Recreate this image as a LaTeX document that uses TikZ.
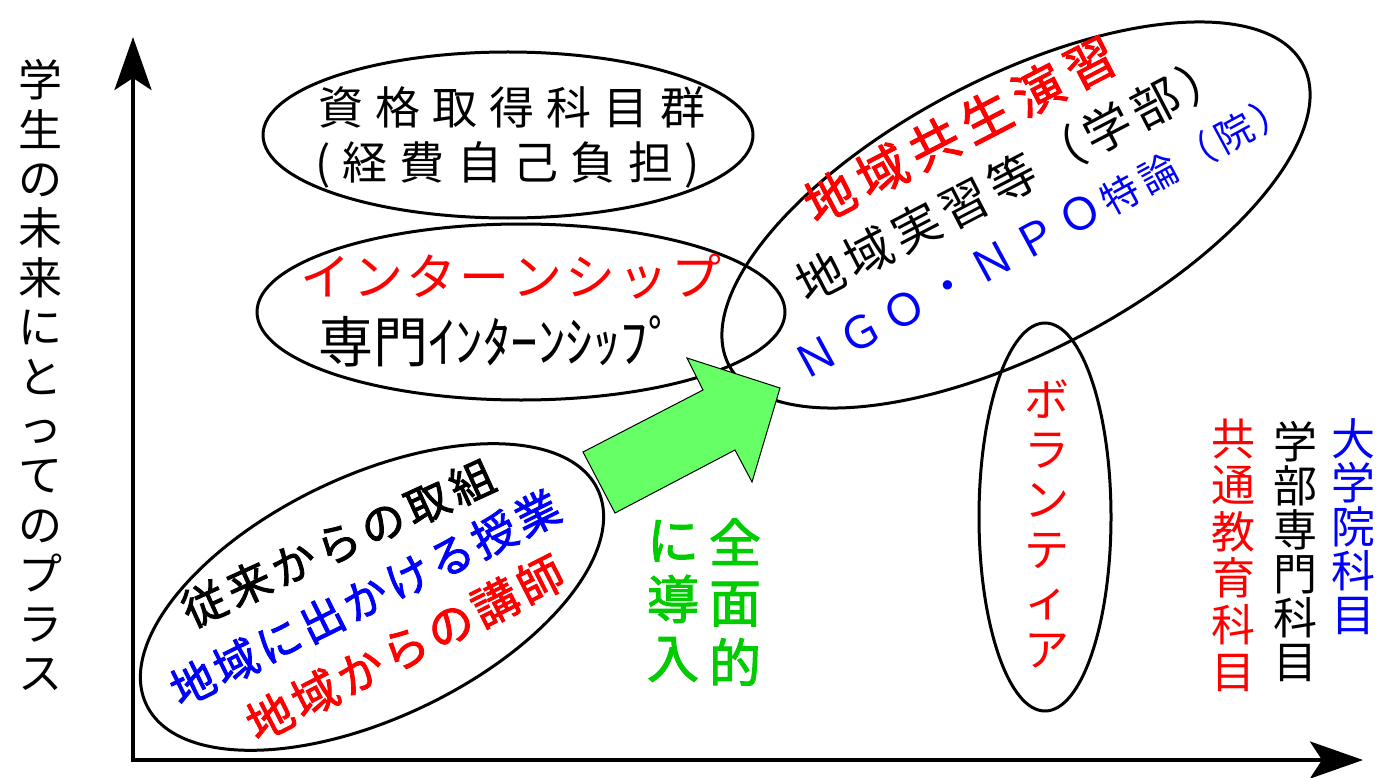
\documentclass[tikz,border=0pt]{standalone}
\usepackage{fontspec}
\usetikzlibrary{shapes.geometric,arrows.meta}
\newfontfamily\jp{Noto Sans CJK JP}
\newfontfamily\jpb[FakeBold=2]{Noto Sans CJK JP}
\definecolor{ared}{RGB}{255,0,0}
\definecolor{ablue}{RGB}{0,0,255}
\definecolor{agreen}{RGB}{0,204,0}
\definecolor{afill}{RGB}{102,255,102}
\makeatletter
\newcommand\lsp[2]{\def\lsp@g{#1}\lsp@a#2\@nil}
\def\lsp@a#1#2{#1\ifx\@nil#2\else\hskip\lsp@g\relax\expandafter\lsp@a\expandafter#2\fi}
\newcommand\vtx[2]{\vbox{\baselineskip=#1\lineskiplimit=-100pt\lineskip=0pt\vtx@a#2\@nil}}
\def\vtx@a#1#2{\hbox to 0pt{\hss#1\hss}\ifx\@nil#2\else\expandafter\vtx@a\expandafter#2\fi}
\makeatother
\begin{document}
\begin{tikzpicture}[x=1pt,y=-1pt,
  bubble/.style={draw=black,line width=3pt,ellipse,inner sep=0pt},
  lbl/.style={inner sep=0pt,text=black},
  axis/.style={line width=4pt,{Stealth[length=53pt,width=37pt,inset=12pt]}-{Stealth[length=53pt,width=37pt,inset=12pt]}},
  bigarrow/.style={fill=afill,draw=black,line width=1pt,line join=miter}]
\useasboundingbox (0,0) rectangle (1388,778);
\fill[white] (0,0) rectangle (1388,778);
% axes
\coordinate (O) at (133,760);
\coordinate (ytip) at (133,37);
\coordinate (xtip) at (1363,760);
\draw[axis] (ytip) -- (O) -- (xtip);
% ellipses
\node[bubble,minimum width=490pt,minimum height=166pt] (e1) at (508,135) {};
\node[bubble,minimum width=528pt,minimum height=176pt] (e2) at (521,312) {};
\node[bubble,minimum width=648pt,minimum height=274pt,rotate=27.6] (e3) at (1016,215) {};
\node[bubble,minimum width=132pt,minimum height=388pt] (e4) at (1045,517) {};
\node[bubble,minimum width=500pt,minimum height=242pt,rotate=25.5] (e5) at (372,597) {};
% green arrow
\coordinate (a1) at (583,452);
\coordinate (a2) at (615,513);
\coordinate (a3) at (735,450);
\coordinate (a4) at (752,482);
\coordinate (a5) at (780,388);
\coordinate (a6) at (687,358);
\coordinate (a7) at (703,390);
\draw[bigarrow] (a1) -- (a2) -- (a3) -- (a4) -- (a5) -- (a6) -- (a7) -- cycle;
% y label
\node[lbl,font=\jp\fontsize{44}{49}\selectfont] (ylab) at (40,375) {\vtx{49.4pt}{学生の未来にとってのプラス}};
% ellipse 1
\node[lbl,font=\jp\fontsize{45}{50}\selectfont] (t1a) at (512,107) {\lsp{12pt}{資格取得科目群}};
\node[lbl,font=\jp\fontsize{45}{50}\selectfont] (t1b) at (508,165) {\lsp{12pt}{(経費自己負担)}};
% ellipse 2
\node[lbl,text=ared,font=\jp\fontsize{50}{55}\selectfont] (t2a) at (511,277) {\lsp{3pt}{インターンシップ}};
\node[lbl,font=\jp\fontsize{55}{60}\selectfont] (t2b) at (497,341) {専門ｲﾝﾀｰﾝｼｯﾌﾟ};
% big ellipse
\node[lbl,text=ared,font=\jpb\fontsize{50}{55}\selectfont,rotate=27.4] (t3a) at (960,130) {\lsp{8.6pt}{地域共生演習}};
\node[lbl,font=\jp\fontsize{48}{52}\selectfont,rotate=27.4] (t3b) at (1012,178) {\lsp{6pt}{地域実習等（学部）}};
\node[lbl,text=ablue,font=\jp\fontsize{44}{50}\selectfont,rotate=28.4] (t3c) at (1043,236) {\lsp{6pt}{ＮＧＯ・ＮＰＯ}\hskip4pt\fontsize{38}{40}\selectfont\lsp{5pt}{特論（院）}};
% volunteer
\node[lbl,text=ared,font=\jp\fontsize{45}{50}\selectfont] (t4) at (1047,524) {\vtx{50pt}{ボランティア}};
% lower-left ellipse
\node[lbl,font=\jpb\fontsize{44}{50}\selectfont,rotate=24.5] (t5a) at (338,543) {\lsp{5pt}{従来からの取組}};
\node[lbl,text=ablue,font=\jpb\fontsize{44}{50}\selectfont,rotate=26.3] (t5b) at (365,598) {\lsp{4pt}{地域に出かける授業}};
\node[lbl,text=ared,font=\jpb\fontsize{46}{50}\selectfont,rotate=27] (t5c) at (405,648) {\lsp{4.5pt}{地域からの講師}};
% green text
\node[lbl,text=agreen,font=\jpb\fontsize{52}{60}\selectfont] (g1) at (735,602) {\vtx{60pt}{全面的}};
\node[lbl,text=agreen,font=\jpb\fontsize{52}{60}\selectfont] (g2) at (673,601) {\vtx{59pt}{に導入}};
% right columns
\node[lbl,text=ablue,font=\jp\fontsize{44}{44}\selectfont] (r1) at (1353,527) {\vtx{44pt}{大学院科目}};
\node[lbl,font=\jp\fontsize{44}{44}\selectfont] (r2) at (1295,552) {\vtx{44pt}{学部専門科目}};
\node[lbl,text=ared,font=\jp\fontsize{44}{46}\selectfont] (r3) at (1233,555) {\vtx{46.6pt}{共通教育科目}};
\end{tikzpicture}
\end{document}
